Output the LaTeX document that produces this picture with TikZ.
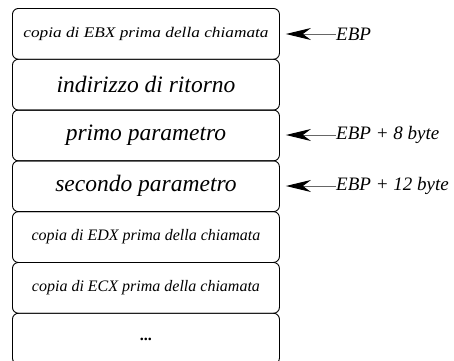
\documentclass[tikz,border=0pt]{standalone}
\usepackage{fontspec}
\setmainfont{Liberation Serif}
\usetikzlibrary{arrows.meta}
\tikzset{
  cell/.style={draw=black, line width=0.9pt, rounded corners=6pt,
    minimum width=267pt, minimum height=50.8pt, inner sep=0pt,
    anchor=north west, font=\itshape},
  bigtxt/.style={font=\fontsize{23.5}{26}\selectfont\itshape},
  smalltxt/.style={font=\fontsize{16}{18}\selectfont\itshape},
  lab/.style={anchor=west, inner sep=0pt, font=\fontsize{19}{22}\selectfont\itshape},
  ptr/.style={draw=black!60, line width=1pt,
    -{Stealth[length=25pt, width=12pt, inset=8pt, black, fill=black]}}
}
\begin{document}
\begin{tikzpicture}[x=1pt,y=1pt]
\useasboundingbox (0,0) rectangle (454,360);
\clip (0,0) rectangle (454,360);
\node[cell, smalltxt] (b1) at (12,352) {\scalebox{1.08}[0.92]{copia di EBX prima della chiamata}};
\node[cell, bigtxt] (b2) at (12,301.2) {indirizzo di ritorno};
\node[cell, bigtxt] (b3) at (12,250.4) {primo parametro};
\node[cell, bigtxt] (b4) at (12,199.6) {secondo parametro};
\node[cell, smalltxt] (b5) at (12,148.8) {copia di EDX prima della chiamata};
\node[cell, smalltxt] (b6) at (12,98.0) {copia di ECX prima della chiamata};
\node[cell, smalltxt] (b7) at (12,47.2) {\raisebox{-3pt}{\bfseries\upshape ...}};
\node[lab] (l1) at (336,326) {EBP};
\node[lab] (l3) at (336,225) {EBP + 8 byte};
\node[lab] (l4) at (336,174) {EBP + 12 byte};
\draw[ptr] (l1.west) -- ([xshift=6pt]b1.east |- l1.west);
\draw[ptr] (l3.west) -- ([xshift=6pt]b3.east |- l3.west);
\draw[ptr] (l4.west) -- ([xshift=6pt]b4.east |- l4.west);
\end{tikzpicture}
\end{document}
